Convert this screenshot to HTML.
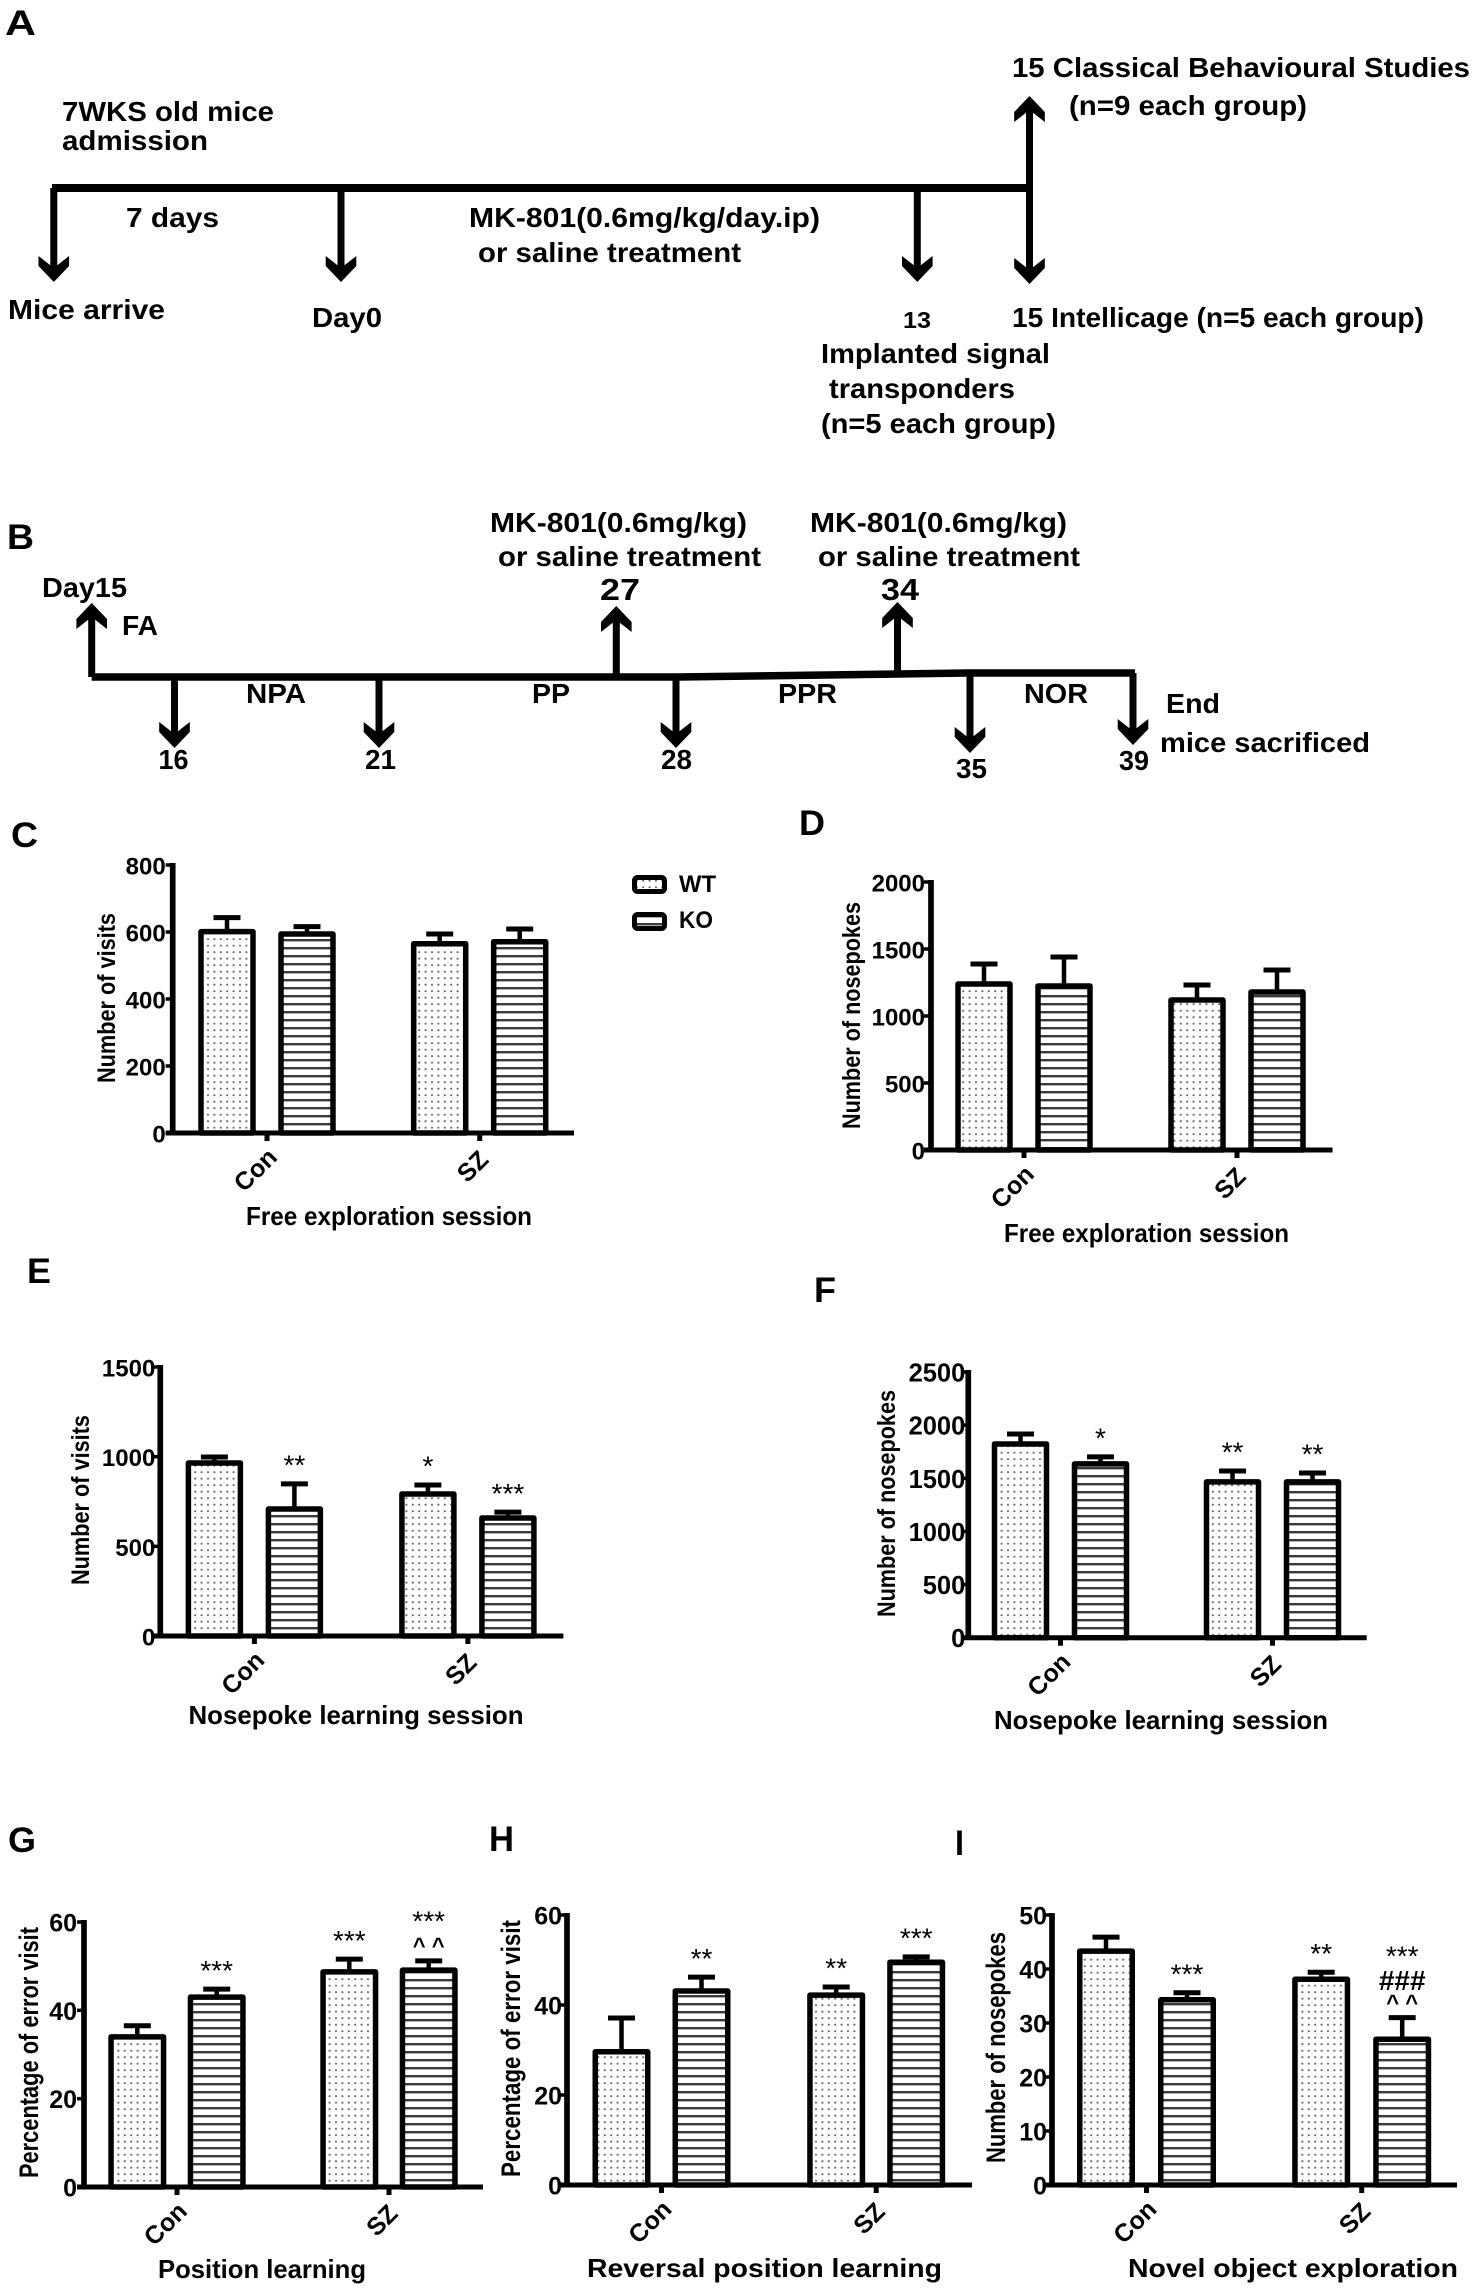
<!DOCTYPE html>
<html lang="en">
<head>
<meta charset="utf-8">
<title>Experimental timeline and behavioural results</title>
<style>
html,body{margin:0;padding:0;background:#fff;}
svg{display:block;}
text{font-family:"Liberation Sans",sans-serif;font-weight:bold;fill:#000;}
.s{font-size:28px;}
.l{font-size:35px;}
.yl{font-size:25px;}
.yg{font-size:27px;}
.tt{font-size:26px;}
</style>
</head>
<body>
<svg id="fig" xmlns="http://www.w3.org/2000/svg" width="1476" height="2294" viewBox="0 0 1476 2294">
<defs>
<pattern id="dots" patternUnits="userSpaceOnUse" width="6.4" height="6.5">
<rect width="6.4" height="6.5" fill="#fff"/>
<circle cx="3.2" cy="3.2" r="1.05" fill="#666"/>
</pattern>
<pattern id="stripes" patternUnits="userSpaceOnUse" width="10" height="8">
<rect width="10" height="8" fill="#fff"/>
<rect y="3" width="10" height="2.4" fill="#3a3a3a"/>
</pattern>
</defs>
<rect width="1476" height="2294" fill="#fff"/>

<g>
<text class="l" x="5" y="35" textLength="31" lengthAdjust="spacingAndGlyphs">A</text>
<line x1="52" y1="188" x2="1030" y2="188" stroke="#000" stroke-width="8"/>
<text class="s" x="1012" y="77" textLength="458" lengthAdjust="spacingAndGlyphs">15  Classical Behavioural Studies</text>
<text class="s" x="1069" y="115" textLength="238" lengthAdjust="spacingAndGlyphs">(n=9 each group)</text>
<text class="s" x="62" y="121" textLength="212" lengthAdjust="spacingAndGlyphs">7WKS old mice</text>
<text class="s" x="62" y="150" textLength="146" lengthAdjust="spacingAndGlyphs">admission</text>
<text class="s" x="126" y="227" textLength="93" lengthAdjust="spacingAndGlyphs">7 days</text>
<text class="s" x="469" y="227" textLength="351" lengthAdjust="spacingAndGlyphs">MK-801(0.6mg/kg/day.ip)</text>
<text class="s" x="478" y="262" textLength="263" lengthAdjust="spacingAndGlyphs">or saline treatment</text>
<text class="s" x="8" y="319" textLength="157" lengthAdjust="spacingAndGlyphs">Mice arrive</text>
<text class="s" x="312" y="327" textLength="70" lengthAdjust="spacingAndGlyphs">Day0</text>
<text class="s" x="903" y="328" textLength="28" lengthAdjust="spacingAndGlyphs" style="font-size:23px">13</text>
<text class="s" x="1012" y="327" textLength="412" lengthAdjust="spacingAndGlyphs">15 Intellicage (n=5 each group)</text>
<text class="s" x="821" y="363" textLength="229" lengthAdjust="spacingAndGlyphs">Implanted signal</text>
<text class="s" x="829" y="398" textLength="186" lengthAdjust="spacingAndGlyphs">transponders</text>
<text class="s" x="821" y="433" textLength="235" lengthAdjust="spacingAndGlyphs">(n=5 each group)</text>
</g>

<g>
<text class="l" x="7" y="549" textLength="27" lengthAdjust="spacingAndGlyphs">B</text>
<polyline points="91.7,677 678,677 967,673 1135,673" fill="none" stroke="#000" stroke-width="7.5"/>
<text class="s" x="490" y="532" textLength="257" lengthAdjust="spacingAndGlyphs">MK-801(0.6mg/kg)</text>
<text class="s" x="498" y="566" textLength="263" lengthAdjust="spacingAndGlyphs">or saline treatment</text>
<text class="s" x="810" y="532" textLength="257" lengthAdjust="spacingAndGlyphs">MK-801(0.6mg/kg)</text>
<text class="s" x="818" y="566" textLength="262" lengthAdjust="spacingAndGlyphs">or saline treatment</text>
<text class="s" x="42" y="597" textLength="85" lengthAdjust="spacingAndGlyphs">Day15</text>
<text class="s" x="600" y="600" textLength="40" lengthAdjust="spacingAndGlyphs" style="font-size:31px">27</text>
<text class="s" x="881" y="600" textLength="38" lengthAdjust="spacingAndGlyphs" style="font-size:31px">34</text>
<text class="s" x="122" y="635" textLength="36" lengthAdjust="spacingAndGlyphs">FA</text>
<text class="s" x="246" y="703" textLength="60" lengthAdjust="spacingAndGlyphs">NPA</text>
<text class="s" x="532" y="703" textLength="38" lengthAdjust="spacingAndGlyphs">PP</text>
<text class="s" x="778" y="703" textLength="59" lengthAdjust="spacingAndGlyphs">PPR</text>
<text class="s" x="1024" y="703" textLength="64" lengthAdjust="spacingAndGlyphs">NOR</text>
<text class="s" x="1166" y="713" textLength="54" lengthAdjust="spacingAndGlyphs">End</text>
<text class="s" x="1160" y="752" textLength="210" lengthAdjust="spacingAndGlyphs">mice sacrificed</text>
<text class="s" x="158.5" y="769" textLength="30" lengthAdjust="spacingAndGlyphs">16</text>
<text class="s" x="365" y="769" textLength="31" lengthAdjust="spacingAndGlyphs">21</text>
<text class="s" x="661" y="769" textLength="31" lengthAdjust="spacingAndGlyphs">28</text>
<text class="s" x="956" y="778" textLength="31" lengthAdjust="spacingAndGlyphs">35</text>
<text class="s" x="1119" y="770" textLength="30" lengthAdjust="spacingAndGlyphs">39</text>
</g>

<g>
<rect x="634.5" y="877.5" width="30" height="14" rx="3" fill="url(#dots)" stroke="#000" stroke-width="5"/>
<text x="679" y="892" font-size="24" textLength="37" lengthAdjust="spacingAndGlyphs">WT</text>
<rect x="634.5" y="914.5" width="30" height="14" rx="3" fill="url(#stripes)" stroke="#000" stroke-width="5"/>
<text x="679" y="928" font-size="24" textLength="34" lengthAdjust="spacingAndGlyphs">KO</text>
</g>

<g>
<text class="l" x="11" y="847" textLength="27" lengthAdjust="spacingAndGlyphs">C</text>
<text class="l" x="799" y="835" textLength="26" lengthAdjust="spacingAndGlyphs">D</text>
<text class="l" x="27" y="1283" textLength="24" lengthAdjust="spacingAndGlyphs">E</text>
<text class="l" x="814" y="1302" textLength="22" lengthAdjust="spacingAndGlyphs">F</text>
<text class="l" x="8" y="1852" textLength="28" lengthAdjust="spacingAndGlyphs">G</text>
<text class="l" x="489" y="1851" textLength="25" lengthAdjust="spacingAndGlyphs">H</text>
<text class="l" x="955" y="1855" textLength="9" lengthAdjust="spacingAndGlyphs">I</text>
</g>

<g>
<text class="tt" x="246" y="1225" textLength="286" lengthAdjust="spacingAndGlyphs">Free exploration session</text>
<text class="tt" x="1004" y="1242" textLength="285" lengthAdjust="spacingAndGlyphs">Free exploration session</text>
<text class="tt" x="188.5" y="1724" textLength="335" lengthAdjust="spacingAndGlyphs">Nosepoke learning session</text>
<text class="tt" x="994" y="1729" textLength="334" lengthAdjust="spacingAndGlyphs">Nosepoke learning session</text>
<text class="tt" x="158" y="2278" textLength="208" lengthAdjust="spacingAndGlyphs">Position learning</text>
<text class="tt" x="587" y="2277" textLength="355" lengthAdjust="spacingAndGlyphs">Reversal position learning</text>
<text class="tt" x="1128" y="2277" textLength="330" lengthAdjust="spacingAndGlyphs">Novel object exploration</text>
<text class="yl" transform="translate(115,1083) rotate(-90)" textLength="170" lengthAdjust="spacingAndGlyphs">Number of visits</text>
<text class="yl" transform="translate(860,1129) rotate(-90)" textLength="227" lengthAdjust="spacingAndGlyphs">Number of nosepokes</text>
<text class="yl" transform="translate(89,1585) rotate(-90)" textLength="170" lengthAdjust="spacingAndGlyphs">Number of visits</text>
<text class="yl" transform="translate(895,1617) rotate(-90)" textLength="227" lengthAdjust="spacingAndGlyphs">Number of nosepokes</text>
<text class="yg" transform="translate(38,2178) rotate(-90)" textLength="251" lengthAdjust="spacingAndGlyphs">Percentage of error visit</text>
<text class="yg" transform="translate(520,2177) rotate(-90)" textLength="257" lengthAdjust="spacingAndGlyphs">Percentage of error visit</text>
<text class="yg" transform="translate(1005,2163) rotate(-90)" textLength="231" lengthAdjust="spacingAndGlyphs">Number of nosepokes</text>
</g>
</svg>

<script>
// ---- shared category labels ----
const categories = ['Con', 'SZ'];

// ---- panel C: visits, free exploration ----
const cTicks = [0, 200, 400, 600, 800];
const cWt = [601, 565];
const cWtErr = [42, 29];
const cKo = [594, 571];
const cKoErr = [22, 38];

// ---- panel D: nosepokes, free exploration ----
const dTicks = [0, 500, 1000, 1500, 2000];
const dWt = [1239, 1119];
const dWtErr = [149, 112];
const dKo = [1224, 1179];
const dKoErr = [216, 164];

// ---- panel E: visits, nosepoke learning ----
const eTicks = [0, 500, 1000, 1500];
const eWt = [965, 792];
const eWtErr = [33, 50];
const eKo = [708, 658];
const eKoErr = [140, 33];

// ---- panel F: nosepokes, nosepoke learning ----
const fTicks = [0, 500, 1000, 1500, 2000, 2500];
const fWt = [1823, 1466];
const fWtErr = [94, 103];
const fKo = [1635, 1466];
const fKoErr = [66, 84];

// ---- panel G: error visits, position learning ----
const gTicks = [0, 20, 40, 60];
const gWt = [34, 48.7];
const gWtErr = [2.5, 2.9];
const gKo = [43, 49.1];
const gKoErr = [1.8, 2.1];

// ---- panel H: error visits, reversal position learning ----
const hTicks = [0, 20, 40, 60];
const hWt = [29.6, 42.2];
const hWtErr = [7.5, 1.8];
const hKo = [43.1, 49.5];
const hKoErr = [3.1, 1.2];

// ---- panel I: nosepokes, novel object exploration ----
const iTicks = [0, 10, 20, 30, 40, 50];
const iWt = [43.3, 38.1];
const iWtErr = [2.6, 1.3];
const iKo = [34.3, 27];
const iKoErr = [1.3, 4];

// ---- significance markers printed above bars ----
const eMarks = [['', '**'], ['*', '***']];
const fMarks = [['', '*'], ['**', '**']];
const gMarks = [['', '***'], ['***', '***|^ ^']];
const hMarks = [['', '**'], ['**', '***']];
const iMarks = [['', '***'], ['**', '***|###|^ ^']];

const SVGNS = 'http://www.w3.org/2000/svg';
const fig = document.getElementById('fig');

function svgEl(tag, attrs, parent) {
  const el = document.createElementNS(SVGNS, tag);
  for (const k in attrs) el.setAttribute(k, attrs[k]);
  (parent || fig).appendChild(el);
  return el;
}

// ---- schematic arrows ----
function arrow(x, from, to) {
  const d = to > from ? 1 : -1;
  const shaft = svgEl('line', {x1: x, y1: from, x2: x, y2: to - d * 12, stroke: '#000', 'stroke-width': 7});
  
  
  const head = svgEl('polygon', {
    points: [x, to, x + 15.3, to - d * 16, x + 15.3, to - d * 26, x, to - d * 14, x - 15.3, to - d * 26, x - 15.3, to - d * 16].join(' '),
    fill: '#000'
  });
  
  
}
[[53.8, 188, 282], [341, 188, 282], [917.3, 188, 282], [1029.5, 188, 284], [1029.5, 188, 96],
 [91.7, 677, 603], [616.3, 680, 606], [897.5, 672, 602],
 [174.5, 677, 748], [379, 677, 748], [676, 677, 748], [970, 673, 753], [1133, 673, 745]
].forEach(a => arrow(a[0], a[1], a[2]));

// ---- chart drawing ----
const panels = [
  {id: 'c', ticks: cTicks, wt: cWt, wtErr: cWtErr, ko: cKo, koErr: cKoErr, marks: null,
   axisX: 172.7, top: 865, base: 1133, end: 574, group0: 267, groupStep: 212.7, spread: 40, barW: 52, gap: 7, tickFont: 24},
  {id: 'd', ticks: dTicks, wt: dWt, wtErr: dWtErr, ko: dKo, koErr: dKoErr, marks: null,
   axisX: 931, top: 882, base: 1150, end: 1332.5, group0: 1024, groupStep: 213, spread: 40, barW: 52, gap: 6, tickFont: 24},
  {id: 'e', ticks: eTicks, wt: eWt, wtErr: eWtErr, ko: eKo, koErr: eKoErr, marks: eMarks,
   axisX: 160.3, top: 1367, base: 1636, end: 563.4, group0: 254.4, groupStep: 213.5, spread: 40, barW: 52, gap: 5, tickFont: 24},
  {id: 'f', ticks: fTicks, wt: fWt, wtErr: fWtErr, ko: fKo, koErr: fKoErr, marks: fMarks,
   axisX: 968.3, top: 1372, base: 1637.7, end: 1366.7, group0: 1060.5, groupStep: 212, spread: 40, barW: 52, gap: 3, tickFont: 25.5},
  {id: 'g', ticks: gTicks, wt: gWt, wtErr: gWtErr, ko: gKo, koErr: gKoErr, marks: gMarks,
   axisX: 84, top: 1922, base: 2187, end: 483, group0: 177, groupStep: 212, spread: 39.7, barW: 52.5, gap: 7, tickFont: 25},
  {id: 'h', ticks: hTicks, wt: hWt, wtErr: hWtErr, ko: hKo, koErr: hKoErr, marks: hMarks,
   axisX: 567, top: 1915, base: 2185, end: 972, group0: 661.5, groupStep: 214.7, spread: 40, barW: 52.5, gap: 5, tickFont: 25},
  {id: 'i', ticks: iTicks, wt: iWt, wtErr: iWtErr, ko: iKo, koErr: iKoErr, marks: iMarks,
   axisX: 1052, top: 1915, base: 2185, end: 1457, group0: 1146.5, groupStep: 215.2, spread: 40.5, barW: 52.5, gap: 5, tickFont: 25}
];

const categoryOffsets = [[-12, 36.5], [-7.5, 33]];
const markLift = {'*': 23, '**': 23, '***': 23, '^ ^': 17, '###': 37};
const markStyle = {
  '*': {size: 28, weight: 'normal', rise: 0.49},
  '#': {size: 28, weight: 'bold', rise: 0.33},
  '^': {size: 22, weight: 'bold', rise: 0.42}
};

function drawPanel(p) {
  const g = svgEl('g', {});
  
  

  const maxV = p.ticks[p.ticks.length - 1];
  const yScale = v => p.base - (v / maxV) * (p.base - p.top);
  const groupX = i => p.group0 + i * p.groupStep;
  const barX = (i, s) => groupX(i) + (s === 0 ? -p.spread : p.spread);

  categories.forEach((cat, i) => {
    [[p.wt, p.wtErr, 'url(#dots)'], [p.ko, p.koErr, 'url(#stripes)']].forEach((series, s) => {
      const mean = series[0][i];
      const err = series[1][i];
      const cx = barX(i, s);
      const yTop = yScale(mean);
      const yCap = yScale(mean + err);

      const stem = svgEl('line', {x1: cx, x2: cx, y1: yTop, y2: yCap, stroke: '#000', 'stroke-width': 4.5}, g);
      
      

      const cap = svgEl('line', {x1: cx - 13.5, x2: cx + 13.5, y1: yCap, y2: yCap, stroke: '#000', 'stroke-width': 5}, g);
      
      

      const bar = svgEl('rect', {
        x: cx - p.barW / 2, y: yTop, width: p.barW, height: p.base - yTop,
        fill: series[2], stroke: '#000', 'stroke-width': 5.5, 'stroke-linejoin': 'round'
      }, g);
      
      

      if (p.marks && p.marks[i][s]) {
        p.marks[i][s].split('|').forEach(str => {
          const style = markStyle[str[0]];
          let lift = markLift[str];
          if (str[0] === '*' && p.marks[i][s].indexOf('|') > -1) {
            lift = p.marks[i][s].indexOf('#') > -1 ? 66 : 44;
          }
          const cy = yCap - lift;
          const mark = svgEl('text', {
            x: cx, y: cy + style.size * style.rise, 'text-anchor': 'middle',
            'font-size': style.size, style: 'font-weight:' + style.weight
          }, g);
          
          
          mark.textContent = str;
        });
      }
    });

    const xTick = svgEl('line', {x1: groupX(i), x2: groupX(i), y1: p.base, y2: p.base + 8, stroke: '#000', 'stroke-width': 5}, g);
    
    

    const off = categoryOffsets[i];
    const catLabel = svgEl('text', {
      transform: 'translate(' + (groupX(i) + off[0]) + ',' + (p.base + off[1]) + ') rotate(-45)',
      y: 9, 'text-anchor': 'middle', 'font-size': 25
    }, g);
    
    
    catLabel.textContent = cat;
  });

  const yAxis = svgEl('line', {x1: p.axisX, x2: p.axisX, y1: p.top - 2, y2: p.base, stroke: '#000', 'stroke-width': 5.7}, g);
  
  

  const xAxis = svgEl('line', {x1: p.axisX - 7, x2: p.end, y1: p.base, y2: p.base, stroke: '#000', 'stroke-width': 5}, g);
  
  

  p.ticks.forEach(t => {
    const y = yScale(t);
    const tick = svgEl('line', {x1: p.axisX - 7, x2: p.axisX, y1: y, y2: y, stroke: '#000', 'stroke-width': 3.5}, g);
    
    

    const label = svgEl('text', {x: p.axisX - p.gap, y: y + 9.5, 'text-anchor': 'end', 'font-size': p.tickFont}, g);
    
    
    label.textContent = t;
  });
}
panels.forEach(drawPanel);
</script>
</body>
</html>
